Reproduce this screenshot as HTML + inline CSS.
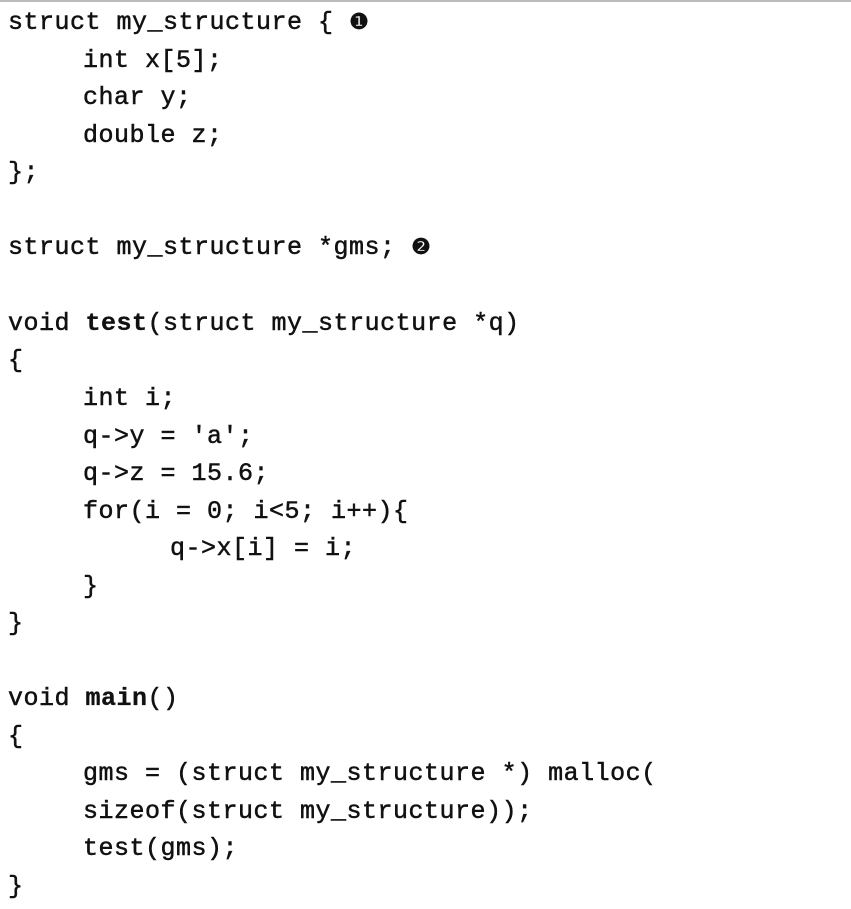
<!DOCTYPE html>
<html><head><meta charset="utf-8"><style>
body{margin:0;width:851px;height:909px;background:#fff;position:relative;overflow:hidden}
.t{position:absolute;top:0;left:0;width:851px;height:2px;background:#bbb}
.l{position:absolute;font-family:"Liberation Mono","DejaVu Sans Mono",monospace;font-size:25px;line-height:25px;color:#111;white-space:pre;letter-spacing:0.5px;-webkit-text-stroke:0.5px #111}
.c{font-family:"DejaVu Sans",sans-serif;font-size:22px}
b{font-weight:bold;-webkit-text-stroke:0.3px #111}
</style></head><body>
<div class="t"></div>
<div class="l" style="top:10px;left:8px">struct my_structure { <span class="c">❶</span></div>
<div class="l" style="top:48px;left:83px">int x[5];</div>
<div class="l" style="top:85px;left:83px">char y;</div>
<div class="l" style="top:123px;left:83px">double z;</div>
<div class="l" style="top:160px;left:8px">};</div>
<div class="l" style="top:235px;left:8px">struct my_structure *gms; <span class="c">❷</span></div>
<div class="l" style="top:311px;left:8px">void <b>test</b>(struct my_structure *q)</div>
<div class="l" style="top:348px;left:8px">{</div>
<div class="l" style="top:386px;left:83px">int i;</div>
<div class="l" style="top:424px;left:83px">q-&gt;y = 'a';</div>
<div class="l" style="top:461px;left:83px">q-&gt;z = 15.6;</div>
<div class="l" style="top:499px;left:83px">for(i = 0; i&lt;5; i++){</div>
<div class="l" style="top:536px;left:170px">q-&gt;x[i] = i;</div>
<div class="l" style="top:574px;left:83px">}</div>
<div class="l" style="top:611px;left:8px">}</div>
<div class="l" style="top:686px;left:8px">void <b>main</b>()</div>
<div class="l" style="top:724px;left:8px">{</div>
<div class="l" style="top:761px;left:83px">gms = (struct my_structure *) malloc(</div>
<div class="l" style="top:799px;left:83px">sizeof(struct my_structure));</div>
<div class="l" style="top:836px;left:83px">test(gms);</div>
<div class="l" style="top:874px;left:8px">}</div>
</body></html>
